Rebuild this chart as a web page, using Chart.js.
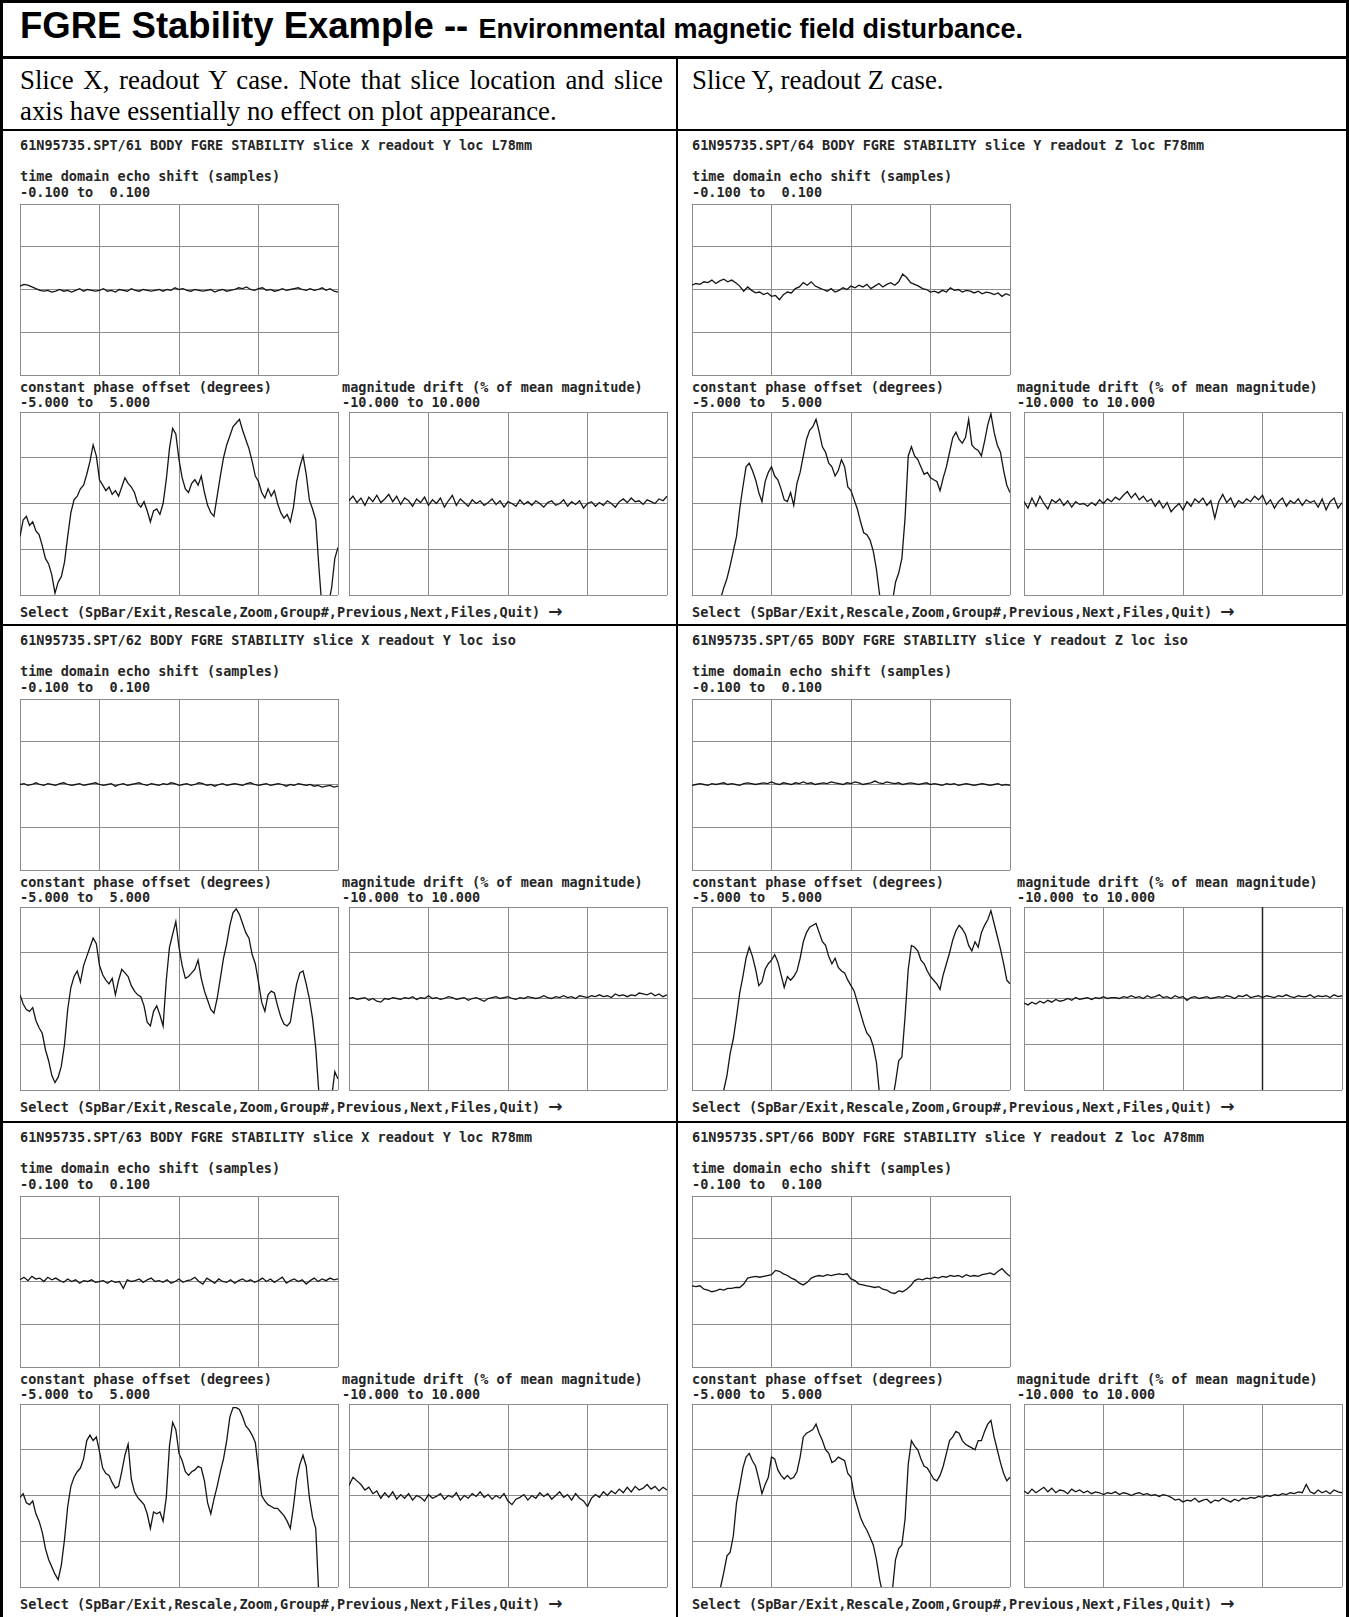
<!DOCTYPE html>
<html>
<head>
<meta charset="utf-8">
<title>FGRE Stability Example</title>
<script src="https://cdn.jsdelivr.net/npm/chart.js@4.4.1/dist/chart.umd.min.js"></script>
<style>
  body { margin: 0; background: #fff; }
  #page { position: relative; width: 1349px; height: 1617px; overflow: hidden; background: #fff; }
  .rule { position: absolute; background: #000; }
  .title { position: absolute; left: 20px; top: 8px; font: bold 36.5px "Liberation Sans", Arial, sans-serif; line-height: 36px; white-space: nowrap; }
  .title small { font-size: 27px; }
  .note { position: absolute; top: 65px; font: 26.8px "Liberation Serif", "Times New Roman", serif; line-height: 31px; }
  .mono { position: absolute; font: bold 13.5px "DejaVu Sans Mono", monospace; line-height: 14px; white-space: pre; color: #262626; }
  .mono .arrow { font: bold 17px "DejaVu Sans", sans-serif; line-height: 14px; }
</style>
</head>
<body>
<div id="page">
  <div class="title">FGRE Stability Example -- <small>Environmental magnetic field disturbance.</small></div>
  <div class="note" style="left:20px;width:643px;text-align:justify;">Slice X, readout Y case. Note that slice location and slice axis have essentially no effect on plot appearance.</div>
  <div class="note" style="left:692px;">Slice Y, readout Z case.</div>
</div>
<script>
// axis ranges of the three plot types
const shiftRange = [-0.1, 0.1];
const phaseRange = [-5, 5];
const driftRange = [-10, 10];

// time domain echo shift (samples)
const shift61 = [0.004,0.006,0.005,0.003,0.001,-0.001,-0.002,-0.001,-0.003,-0.002,0.000,-0.002,-0.001,-0.003,-0.001,0.001,-0.002,0.000,-0.001,-0.002,-0.001,0.001,-0.002,-0.001,-0.003,0.000,-0.001,-0.002,0.001,-0.001,-0.002,0.000,-0.001,-0.002,-0.001,0.000,-0.002,0.000,-0.001,0.002,0.000,0.001,-0.001,-0.002,0.000,-0.001,-0.002,-0.001,0.000,-0.003,-0.001,0.000,-0.002,-0.001,0.000,0.002,0.001,0.003,0.000,-0.001,0.001,0.002,-0.001,0.000,-0.002,-0.001,0.001,-0.001,0.000,0.001,0.002,0.000,-0.001,0.001,-0.001,0.000,0.002,-0.001,0.001,-0.002,-0.003];
const shift62 = [0.000,0.001,-0.001,0.000,0.002,0.000,-0.001,0.001,0.000,-0.001,0.001,0.002,0.000,-0.001,0.000,0.001,-0.001,0.000,0.001,0.002,0.000,-0.001,0.000,0.001,-0.002,0.000,0.001,-0.001,0.000,0.001,0.002,0.000,-0.001,0.001,0.000,-0.001,0.001,0.000,0.002,0.001,-0.001,0.000,0.001,-0.001,0.000,0.002,0.001,-0.001,0.000,-0.002,0.000,0.001,-0.001,0.000,0.001,0.000,-0.001,0.001,0.002,0.000,-0.001,0.000,0.001,-0.001,0.000,0.001,0.000,-0.002,0.000,-0.001,0.001,0.000,-0.001,0.000,-0.002,-0.001,-0.003,-0.002,-0.001,-0.003,-0.002];
const shift63 = [0.002,0.005,0.001,0.006,0.003,0.004,0.000,0.005,0.002,0.004,0.001,-0.001,0.003,0.000,0.002,-0.002,0.001,0.000,0.002,-0.001,0.000,0.001,-0.002,0.001,-0.001,0.000,-0.008,0.002,0.000,0.001,0.003,-0.001,0.002,0.004,0.000,0.001,-0.001,0.002,-0.002,0.000,0.003,-0.001,0.001,0.002,0.005,0.000,-0.003,0.004,0.001,-0.002,0.003,0.000,-0.001,0.002,-0.002,0.001,0.003,0.000,0.002,-0.001,0.001,0.004,0.000,0.003,-0.001,0.002,0.005,-0.002,0.001,0.003,0.000,0.002,-0.003,0.001,0.004,0.000,0.003,0.001,0.004,0.002,0.003];
const shift64 = [0.005,0.007,0.006,0.009,0.008,0.011,0.007,0.010,0.012,0.009,0.011,0.008,0.004,-0.002,0.003,-0.001,-0.004,-0.003,-0.006,-0.004,-0.008,-0.007,-0.012,-0.006,-0.003,-0.004,0.001,0.003,0.008,0.005,0.009,0.004,0.002,0.000,-0.002,0.001,-0.003,-0.001,0.002,0.000,0.004,0.002,0.005,0.003,0.006,0.001,0.004,0.007,0.003,0.006,0.008,0.005,0.009,0.018,0.014,0.008,0.006,0.004,0.001,0.000,-0.003,-0.002,-0.004,-0.001,-0.003,0.002,-0.001,0.000,-0.003,-0.001,-0.002,-0.004,-0.002,-0.005,-0.003,-0.004,-0.006,-0.004,-0.008,-0.005,-0.007];
const shift65 = [-0.001,0.000,0.001,0.000,-0.001,0.001,0.000,0.001,0.002,0.000,0.001,0.000,-0.001,0.001,0.002,0.001,0.000,0.001,0.002,0.001,0.003,0.001,0.000,0.002,0.001,0.000,0.002,0.001,0.003,0.001,0.002,0.000,0.001,0.002,0.001,0.003,0.002,0.001,0.000,0.002,0.001,0.003,0.002,0.000,0.001,0.002,0.004,0.002,0.001,0.003,0.002,0.001,0.002,0.000,0.001,0.002,0.001,0.000,0.001,0.002,0.000,0.001,0.000,-0.001,0.001,0.000,0.001,-0.001,0.000,0.001,0.000,-0.001,0.000,0.001,0.000,-0.001,0.000,0.001,-0.001,0.000,-0.001];
const shift66 = [-0.005,-0.006,-0.005,-0.009,-0.010,-0.012,-0.011,-0.009,-0.010,-0.008,-0.008,-0.007,-0.007,-0.003,0.004,0.005,0.006,0.005,0.006,0.007,0.008,0.013,0.012,0.009,0.007,0.004,0.002,-0.002,-0.004,-0.001,0.004,0.006,0.007,0.006,0.008,0.007,0.008,0.009,0.008,0.009,0.003,0.001,-0.003,-0.004,-0.005,-0.006,-0.007,-0.006,-0.009,-0.010,-0.013,-0.014,-0.011,-0.012,-0.009,-0.005,0.001,0.003,0.002,0.004,0.003,0.005,0.004,0.006,0.005,0.007,0.006,0.007,0.005,0.008,0.006,0.007,0.006,0.008,0.009,0.010,0.008,0.012,0.015,0.010,0.006];

// constant phase offset (degrees)
const phase61 = [-1.8,-0.9,-0.7,-1.2,-1.0,-1.5,-1.7,-2.3,-3.0,-3.3,-3.9,-4.9,-4.3,-4.0,-3.2,-1.8,-0.5,0.2,0.4,0.8,1.0,1.6,2.3,3.2,2.6,1.3,1.0,0.7,0.9,0.5,0.7,0.4,0.9,1.4,1.1,0.9,0.6,0.0,-0.2,0.1,-0.4,-1.0,-0.4,-0.3,-0.6,0.0,1.3,3.0,4.1,3.8,2.4,1.4,0.8,0.6,1.1,1.3,1.0,1.5,0.6,-0.1,-0.5,-0.7,0.4,1.5,2.5,3.2,3.7,4.2,4.4,4.6,4.0,3.5,3.0,2.3,1.5,1.2,0.6,0.3,0.8,0.4,0.7,0.0,-0.5,-0.8,-0.6,-1.0,-0.2,1.2,2.0,2.6,1.6,0.2,-0.3,-0.9,-3.5,-5.8,-6.5,-5.5,-4.6,-3.0,-2.4];
const phase62 = [0.2,-0.3,-0.6,-0.7,-0.5,-1.2,-1.6,-1.9,-2.8,-3.4,-4.2,-4.6,-4.3,-3.7,-2.5,-0.6,0.6,1.2,1.5,0.9,1.8,2.3,2.8,3.3,3.0,1.8,1.3,1.0,0.8,1.1,0.2,1.0,1.6,1.4,1.2,0.7,0.4,0.2,0.1,-0.4,-1.3,-1.5,-0.7,-0.4,-0.9,-1.5,1.0,2.8,3.5,4.2,2.8,1.8,1.1,1.2,1.4,1.6,2.1,1.1,0.4,-0.1,-0.6,-0.8,0.0,1.1,2.2,3.0,4.0,4.7,4.9,4.6,4.1,3.6,3.3,2.4,1.9,0.9,-0.2,-0.7,0.2,0.4,0.3,-0.4,-1.0,-1.4,-1.5,-1.3,-0.2,0.8,1.4,1.5,0.8,0.0,-1.1,-2.7,-5.2,-6.3,-6.8,-6.5,-5.4,-4.0,-4.4];
const phase63 = [-0.1,0.1,-0.4,-0.5,-0.3,-1.0,-1.4,-2.0,-2.9,-3.5,-3.9,-4.3,-4.6,-3.8,-2.4,-0.6,0.5,1.0,1.3,1.5,2.0,3.0,3.3,3.0,3.2,2.4,1.5,1.2,1.1,0.7,0.4,0.5,1.3,2.2,2.8,0.9,0.2,-0.1,-0.3,-0.5,-1.0,-1.8,-0.9,-1.0,-0.9,-1.4,-0.1,2.7,4.0,3.6,2.3,1.9,1.3,1.1,1.3,1.4,1.6,1.5,0.8,-0.4,-1.0,-0.2,0.5,1.3,2.0,3.0,4.3,4.8,4.8,4.7,4.3,3.8,3.6,3.3,2.9,1.4,0.0,-0.3,-0.5,-0.6,-0.7,-0.7,-0.9,-1.1,-1.4,-1.8,-0.6,0.9,1.7,2.2,1.6,-0.1,-1.2,-1.8,-5.6,-7.0,-7.5,-7.8,-8.0,-8.0,-8.0];
const phase64 = [-8.5,-8.2,-8.0,-7.7,-7.3,-6.9,-6.5,-6.0,-5.6,-5.2,-4.6,-4.1,-3.4,-2.6,-1.8,-0.3,0.9,2.0,2.2,1.8,1.3,0.6,0.1,1.2,1.7,2.0,1.5,1.3,0.8,0.2,0.1,0.6,-0.1,1.1,1.7,2.6,3.5,4.0,4.2,4.6,3.9,3.1,2.8,2.2,2.0,1.5,1.8,2.4,2.0,0.9,0.7,0.2,-0.3,-1.0,-1.6,-1.7,-2.0,-2.6,-3.6,-5.0,-6.0,-6.6,-6.3,-5.4,-4.3,-3.8,-3.0,-0.8,2.6,3.1,2.6,2.4,2.0,1.6,1.7,1.4,1.3,1.2,0.7,1.4,2.0,2.8,3.6,3.9,3.5,3.3,3.6,4.6,3.2,3.0,2.9,2.6,3.4,4.3,4.9,3.9,3.2,2.8,1.8,1.0,0.6];
const phase65 = [-8.5,-8.3,-8.0,-7.6,-7.2,-6.8,-6.4,-6.0,-5.6,-5.2,-5.0,-4.2,-3.0,-2.2,-1.0,0.3,1.2,2.2,2.8,2.3,1.6,0.7,0.9,1.6,1.9,2.1,2.4,2.0,1.3,0.6,1.2,1.0,1.2,1.5,2.2,3.1,3.6,3.9,4.0,4.1,3.6,3.1,2.9,2.3,1.9,2.2,1.7,1.5,1.4,1.0,0.7,0.4,-0.2,-0.8,-1.4,-1.9,-2.1,-2.6,-3.5,-5.3,-6.2,-6.8,-6.4,-5.6,-4.6,-3.4,-3.2,-1.0,1.6,2.9,2.8,2.6,2.1,1.9,1.5,1.2,1.0,0.8,0.5,1.3,1.9,2.5,3.2,3.7,4.0,3.8,3.5,2.9,2.6,3.1,2.8,3.6,4.0,4.3,4.8,4.1,3.4,2.7,1.9,1.0,0.8];
const phase66 = [-8.3,-8.0,-7.7,-7.3,-7.0,-6.6,-6.2,-5.8,-5.4,-5.0,-4.2,-3.3,-3.1,-2.2,-0.4,0.5,1.5,2.1,2.3,1.9,1.6,0.9,0.1,0.6,1.0,2.1,2.0,1.4,1.1,0.9,1.1,0.9,1.0,1.3,2.1,3.2,3.4,3.5,3.6,3.9,3.4,3.0,2.5,2.3,1.8,1.9,2.1,2.0,1.9,1.2,1.0,0.0,-0.6,-1.2,-1.6,-1.9,-2.3,-2.7,-3.5,-4.6,-5.4,-6.0,-6.0,-5.2,-3.5,-2.9,-2.7,-1.3,1.7,3.0,2.7,2.5,2.0,1.6,1.5,1.2,0.9,0.8,1.1,1.6,2.3,3.0,3.2,3.5,3.4,3.0,2.8,2.7,2.6,2.5,3.0,3.0,3.5,3.9,4.1,3.2,2.5,1.8,1.2,0.8,1.0];

// magnitude drift (% of mean magnitude)
const drift61 = [0.3,0.8,0.1,0.6,-0.2,0.7,0.2,0.9,0.1,0.5,1.0,0.2,0.8,-0.1,0.6,0.3,-0.3,0.5,0.1,0.7,-0.2,0.4,0.0,0.6,-0.4,0.3,0.9,-0.2,0.5,0.1,-0.3,0.4,0.0,0.3,-0.2,0.1,0.5,-0.1,0.3,-0.4,0.2,0.0,-0.3,0.4,-0.1,0.2,-0.2,0.3,0.0,-0.4,0.1,0.3,-0.2,0.0,0.4,-0.3,0.2,-0.1,0.3,-0.5,0.0,0.2,-0.3,0.1,-0.2,0.3,0.0,-0.4,0.2,0.5,0.1,0.6,0.2,0.3,-0.1,0.4,0.2,0.0,0.5,0.3,0.8];
const drift62 = [0.0,0.1,-0.1,0.0,0.1,-0.2,0.0,-0.3,-0.4,0.0,-0.1,0.1,0.0,-0.1,0.1,0.0,0.2,-0.1,0.1,0.0,0.3,0.0,0.1,-0.1,0.0,0.2,0.1,-0.1,0.0,0.1,-0.2,0.0,0.1,-0.1,-0.3,0.0,0.1,0.2,0.0,0.1,0.2,0.0,-0.1,0.1,0.0,0.2,0.1,0.0,0.1,0.3,0.1,0.0,0.2,0.1,0.3,0.1,0.2,0.0,0.3,0.2,0.1,0.3,0.2,0.4,0.2,0.3,0.1,0.5,0.3,0.4,0.2,0.4,0.3,0.6,0.5,0.4,0.6,0.3,0.5,0.2,0.4];
const drift63 = [1.1,2.0,1.6,1.2,0.6,0.9,0.2,0.5,-0.3,0.3,-0.2,0.4,-0.4,0.1,-0.3,0.2,-0.5,0.0,-0.2,-0.6,0.1,-0.3,-0.1,0.2,-0.4,0.0,-0.2,0.3,-0.5,0.0,-0.3,0.2,-0.1,0.4,-0.2,0.1,-0.4,0.0,-0.3,0.2,-0.6,-1.0,-0.4,-0.2,0.1,-0.5,0.0,-0.3,0.3,-0.1,0.2,-0.4,0.0,0.4,-0.2,0.1,-0.5,0.2,-0.3,-0.6,-1.2,-0.3,0.1,-0.2,0.4,0.0,0.5,0.2,0.7,0.3,0.9,0.4,1.0,0.6,0.8,1.2,0.7,1.0,0.5,0.9,0.6];
const drift64 = [0.2,-0.5,0.6,-0.3,0.8,0.0,-0.6,0.4,0.1,0.5,-0.2,0.3,-0.4,0.2,-0.1,0.0,-0.3,0.1,-0.2,0.4,0.0,0.5,0.2,0.7,0.4,0.9,1.3,0.6,1.1,0.4,0.8,0.2,0.5,-0.3,0.3,-0.5,0.1,-0.9,-0.4,0.0,-0.7,0.2,-0.3,0.5,0.1,0.6,-0.2,0.3,-1.6,0.2,1.0,0.1,0.6,-0.4,0.3,0.0,0.5,0.2,0.8,0.4,0.9,-0.1,0.4,-0.5,0.2,0.6,-0.3,0.3,0.0,0.5,-0.2,0.4,0.1,0.3,-0.4,0.5,-0.7,0.2,0.6,-0.5,0.1];
const drift65 = [-0.5,-0.7,-0.4,-0.6,-0.3,-0.5,-0.2,-0.4,-0.1,-0.3,-0.2,0.0,-0.2,0.1,-0.1,0.0,0.1,-0.1,0.1,0.0,0.2,0.0,0.1,0.1,0.0,0.2,0.1,0.3,0.1,0.2,0.0,0.3,0.1,0.2,0.4,0.1,0.2,0.0,0.3,0.1,0.2,-0.2,0.1,0.2,0.0,0.1,0.2,0.0,0.1,0.2,0.1,0.3,0.2,0.0,0.3,0.2,0.4,0.1,0.2,0.3,0.1,0.3,0.2,0.1,0.3,0.2,0.4,0.2,0.1,0.3,0.2,0.2,0.4,0.1,0.3,0.2,0.3,0.1,0.4,0.2,0.3];
const drift66 = [0.5,0.2,0.7,0.3,0.6,0.9,0.4,0.8,0.3,0.6,0.5,0.2,0.7,0.4,0.6,0.3,0.5,0.2,0.4,0.3,0.1,0.3,0.2,0.4,0.1,0.3,0.2,0.0,0.2,0.3,0.1,0.2,0.0,0.1,-0.1,0.1,0.0,-0.2,-0.5,-0.4,-0.7,-0.5,-0.6,-0.3,-0.7,-0.5,-0.4,-0.8,-0.5,-0.6,-0.3,-0.5,-0.7,-0.4,-0.6,-0.3,-0.4,-0.2,-0.3,-0.1,-0.2,0.0,-0.1,0.1,0.0,0.2,0.1,0.3,0.2,0.4,0.3,1.2,0.4,0.2,0.6,0.3,0.5,0.2,0.6,0.4,0.3];

// sample index of the cursor left on the /65 drift plot
const cursor65 = [60];

const panels = [
    { file: '61', slice: 'X', readout: 'Y', loc: 'L78mm', col: 0, row: 0, shift: shift61, phase: phase61, drift: drift61 },
    { file: '62', slice: 'X', readout: 'Y', loc: 'iso',   col: 0, row: 1, shift: shift62, phase: phase62, drift: drift62 },
    { file: '63', slice: 'X', readout: 'Y', loc: 'R78mm', col: 0, row: 2, shift: shift63, phase: phase63, drift: drift63 },
    { file: '64', slice: 'Y', readout: 'Z', loc: 'F78mm', col: 1, row: 0, shift: shift64, phase: phase64, drift: drift64 },
    { file: '65', slice: 'Y', readout: 'Z', loc: 'iso',   col: 1, row: 1, shift: shift65, phase: phase65, drift: drift65, cursor: cursor65 },
    { file: '66', slice: 'Y', readout: 'Z', loc: 'A78mm', col: 1, row: 2, shift: shift66, phase: phase66, drift: drift66 }
];

const page = document.getElementById('page');
const columns = [{ x: 20, driftX: 349 }, { x: 692, driftX: 1024 }];
const rowTops = [0, 495, 992];

function addRule(x, y, w, h) {
    const d = document.createElement('div');
    d.className = 'rule';
    d.style.cssText = `left:${x}px;top:${y}px;width:${w}px;height:${h}px`;
    page.appendChild(d);
}

function addText(x, y, text, arrow) {
    const d = document.createElement('div');
    d.className = 'mono';
    d.style.left = x + 'px';
    d.style.top = y + 'px';
    d.textContent = text;
    if (arrow) {
        const a = document.createElement('span');
        a.className = 'arrow';
        a.textContent = arrow;
        d.appendChild(a);
    }
    page.appendChild(d);
}

function rangeText(range) {
    const f = v => v.toFixed(3).padStart(6);
    return `${f(range[0])} to ${f(range[1])}`;
}

// grid at the edges and quarters, no tick labels
function quarterAxis(min, max) {
    return {
        type: 'linear', min, max,
        ticks: { display: false },
        border: { display: false },
        grid: { color: '#8c8c8c', lineWidth: 1, drawTicks: false },
        afterBuildTicks: axis => {
            axis.ticks = [0, 1, 2, 3, 4].map(k => ({ value: min + (max - min) * k / 4 }));
        }
    };
}

function drawPlot(x, y, w, h, series, range, cursor) {
    const canvas = document.createElement('canvas');
    canvas.width = w + 2;
    canvas.height = h + 2;
    canvas.style.cssText = `position:absolute;left:${x - 1}px;top:${y - 1}px;`;
    page.appendChild(canvas);

    const last = series.length - 1;
    const datasets = [{
        data: series.map((v, i) => ({ x: i, y: v })),
        borderColor: '#151515',
        borderWidth: 1.3,
        pointRadius: 0,
        tension: 0
    }];
    if (cursor) {
        datasets.push({
            data: [{ x: cursor[0], y: range[0] }, { x: cursor[0], y: range[1] }],
            borderColor: '#222',
            borderWidth: 1.5,
            pointRadius: 0
        });
    }

    new Chart(canvas, {
        type: 'line',
        data: { datasets },
        options: {
            responsive: false,
            animation: false,
            events: [],
            layout: { padding: 1 },
            plugins: { legend: { display: false }, tooltip: { enabled: false } },
            scales: {
                x: quarterAxis(0, last),
                y: quarterAxis(range[0], range[1])
            }
        }
    });
}

// table frame
addRule(0, 0, 1349, 3);
addRule(0, 0, 3, 1617);
addRule(1346, 0, 3, 1617);
addRule(0, 56, 1349, 3);
addRule(0, 129, 1349, 2);
addRule(0, 624, 1349, 2);
addRule(0, 1121, 1349, 2);
addRule(676, 56, 2, 1561);

panels.forEach(p => {
    const c = columns[p.col];
    const top = rowTops[p.row];
    addText(c.x, top + 138, `61N95735.SPT/${p.file} BODY FGRE STABILITY slice ${p.slice} readout ${p.readout} loc ${p.loc}`);

    addText(c.x, top + 169, 'time domain echo shift (samples)');
    addText(c.x, top + 185, rangeText(shiftRange));
    drawPlot(c.x, top + 204, 318, 171, p.shift, shiftRange);

    addText(c.x, top + 380, 'constant phase offset (degrees)');
    addText(c.x, top + 395, rangeText(phaseRange));
    drawPlot(c.x, top + 412, 318, 183, p.phase, phaseRange);

    addText(c.driftX - 7, top + 380, 'magnitude drift (% of mean magnitude)');
    addText(c.driftX - 7, top + 395, rangeText(driftRange));
    drawPlot(c.driftX, top + 412, 318, 183, p.drift, driftRange, p.cursor);

    addText(c.x, top + 604, 'Select (SpBar/Exit,Rescale,Zoom,Group#,Previous,Next,Files,Quit) ', '\u2192');
});
</script>
</body>
</html>
